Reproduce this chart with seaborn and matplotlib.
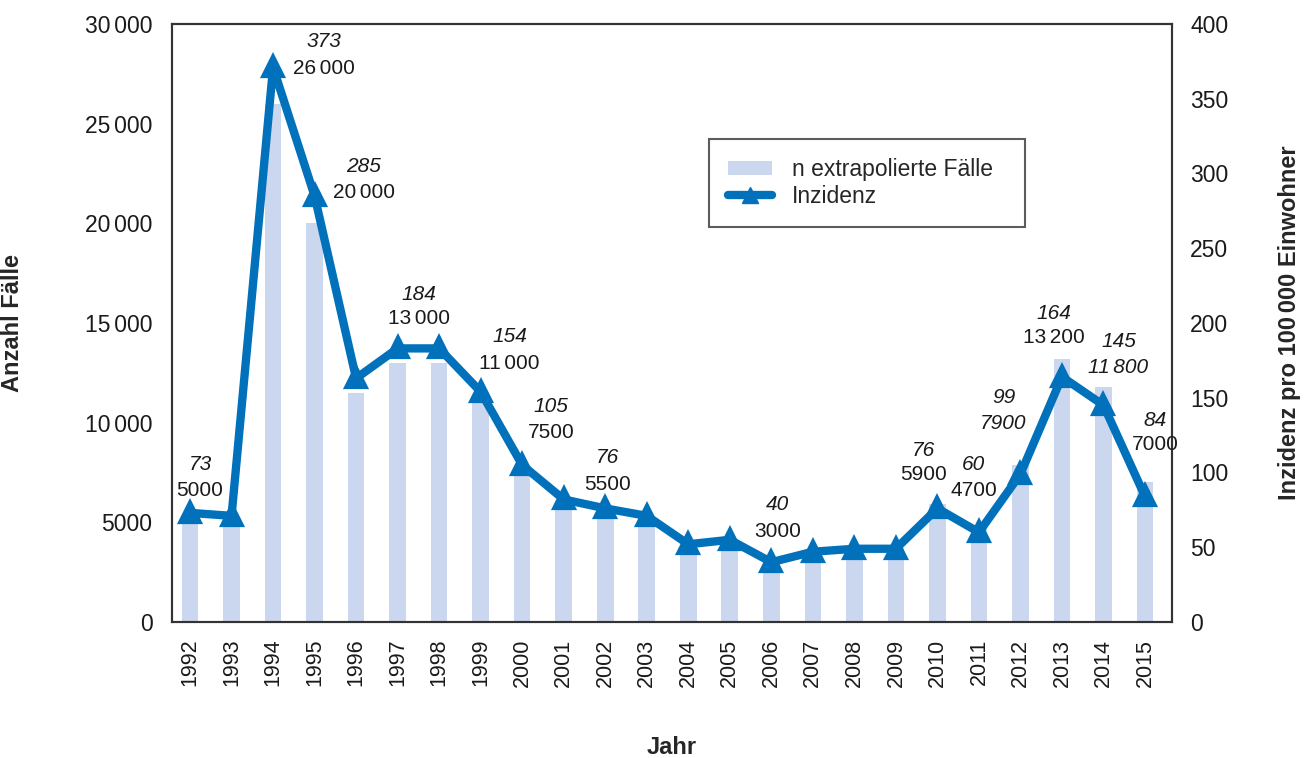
import matplotlib
matplotlib.use("Agg")
import matplotlib.pyplot as plt
import matplotlib.ticker as mticker
from matplotlib.patches import Patch
from matplotlib.lines import Line2D
import pandas as pd
import seaborn as sns

# data
years = [1992, 1993, 1994, 1995, 1996, 1997, 1998, 1999, 2000, 2001, 2002, 2003,
         2004, 2005, 2006, 2007, 2008, 2009, 2010, 2011, 2012, 2013, 2014, 2015]
faelle = [5000, 5000, 26000, 20000, 11500, 13000, 13000, 11000, 7500, 6000, 5500, 5000,
          3800, 4100, 3000, 3300, 3500, 3700, 5900, 4700, 7900, 13200, 11800, 7000]
inzidenz = [73, 71, 371, 285, 163, 183, 183, 154, 105, 82, 76, 71,
            52, 55, 40, 47, 49, 49, 76, 60, 99, 164, 145, 84]

SP = '\u2006'  # narrow gap used as thousands separator

# which years get a value label (incidence / count)
label_years = [1992, 1994, 1995, 1997, 1999, 2000, 2002, 2006, 2010, 2011, 2012, 2013, 2014, 2015]
label_inz = ['73', '373', '285', '184', '154', '105', '76', '40', '76', '60', '99', '164', '145', '84']
label_n = ['5000', '26' + SP + '000', '20' + SP + '000', '13' + SP + '000', '11' + SP + '000',
           '7500', '5500', '3000', '5900', '4700', '7900', '13' + SP + '200', '11' + SP + '800', '7000']

# label placement: (x shift in bar slots, y of italic line, y of count line) in left-axis units
label_pos = [(0.24, 7880, 6620), (1.23, 29100, 27790), (1.19, 22830, 21570), (0.52, 16450, 15200),
             (0.70, 14300, 12990), (0.69, 10790, 9530), (0.06, 8230, 6920), (0.16, 5870, 4520),
             (-0.33, 8580, 7380), (-0.12, 7880, 6620), (-0.41, 11240, 9980), (-0.2, 15500, 14250),
             (0.36, 14050, 12790), (0.25, 10130, 8880)]
italic_n = [False, False, False, False, False, False, False, False,
            False, False, True, False, True, False]

bar_col = '#cbd7ee'
line_col = '#0071ba'
txt_col = '#1a1a1a'
fam = ['Liberation Sans', 'DejaVu Sans']

sns.set_style('white')
plt.rcParams['font.family'] = fam

df = pd.DataFrame({'Jahr': [str(y) for y in years], 'Faelle': faelle, 'Inzidenz': inzidenz})

fig = plt.figure(figsize=(13.06, 7.58), dpi=100)
ax = fig.add_axes([0.1317, 0.1794, 0.7657, 0.789])

sns.barplot(data=df, x='Jahr', y='Faelle', color=bar_col, width=0.4, ax=ax,
            saturation=1, edgecolor='none')
ax.set_ylim(0, 30000)
ax.set_yticks(range(0, 30001, 5000))
ax.yaxis.set_major_formatter(mticker.FuncFormatter(
    lambda v, p: f'{int(v):,}'.replace(',', SP) if v >= 10000 else f'{int(v)}'))
ax.tick_params(axis='y', length=0, labelsize=16.5, colors=txt_col, pad=14)
ax.tick_params(axis='x', length=0, labelsize=15.5, colors=txt_col, rotation=90, pad=12)
ax.set_xlabel('Jahr', fontsize=17, fontweight='bold')
ax.set_ylabel('Anzahl Fälle', fontsize=17, fontweight='bold')
ax.xaxis.set_label_coords(0.5, -0.19)
ax.yaxis.set_label_coords(-0.148, 0.5)

ax2 = ax.twinx()
sns.pointplot(data=df, x='Jahr', y='Inzidenz', color=line_col, markers='^',
              linestyles='-', ax=ax2, markersize=12, linewidth=6)
ax2.set_ylim(0, 400)
ax2.set_yticks(range(0, 401, 50))
ax2.tick_params(axis='y', length=0, labelsize=16.5, colors=txt_col, pad=13)
ax2.set_ylabel('Inzidenz pro 100' + SP + '000 Einwohner', fontsize=17, fontweight='bold')
ax2.yaxis.set_label_coords(1.106, 0.5)
# bars sit slightly left of centre in the original frame
ax2.set_xlim(-0.434, len(years) - 0.35)
ax.set_xlim(-0.434, len(years) - 0.35)

for sp in list(ax.spines.values()) + list(ax2.spines.values()):
    sp.set_color('#333333')
    sp.set_linewidth(1.5)

for yr, ti, tn, (dx, yi, yn), it in zip(label_years, label_inz, label_n, label_pos, italic_n):
    i = years.index(yr)
    ax2.text(i + dx, yi, ti, transform=ax.transData, ha='center', va='center',
             fontsize=15, style='italic', color=txt_col)
    ax2.text(i + dx, yn, tn, transform=ax.transData, ha='center', va='center',
             fontsize=15, style='italic' if it else 'normal', color=txt_col)

handles = [Patch(facecolor=bar_col, edgecolor='none'),
           Line2D([], [], color=line_col, lw=6, marker='^', markersize=12)]
leg = ax2.legend(handles, ['n extrapolierte Fälle  ', 'Inzidenz'], loc='upper left',
                 bbox_to_anchor=(0.537, 0.808), fontsize=16.5, frameon=True, fancybox=False,
                 handlelength=1.9, handleheight=0.6, borderpad=0.85, labelspacing=0.15,
                 handletextpad=0.85, borderaxespad=0)
leg.get_frame().set_edgecolor('#333333')
leg.get_frame().set_linewidth(1.5)

fig.savefig('out.png', dpi=100)
